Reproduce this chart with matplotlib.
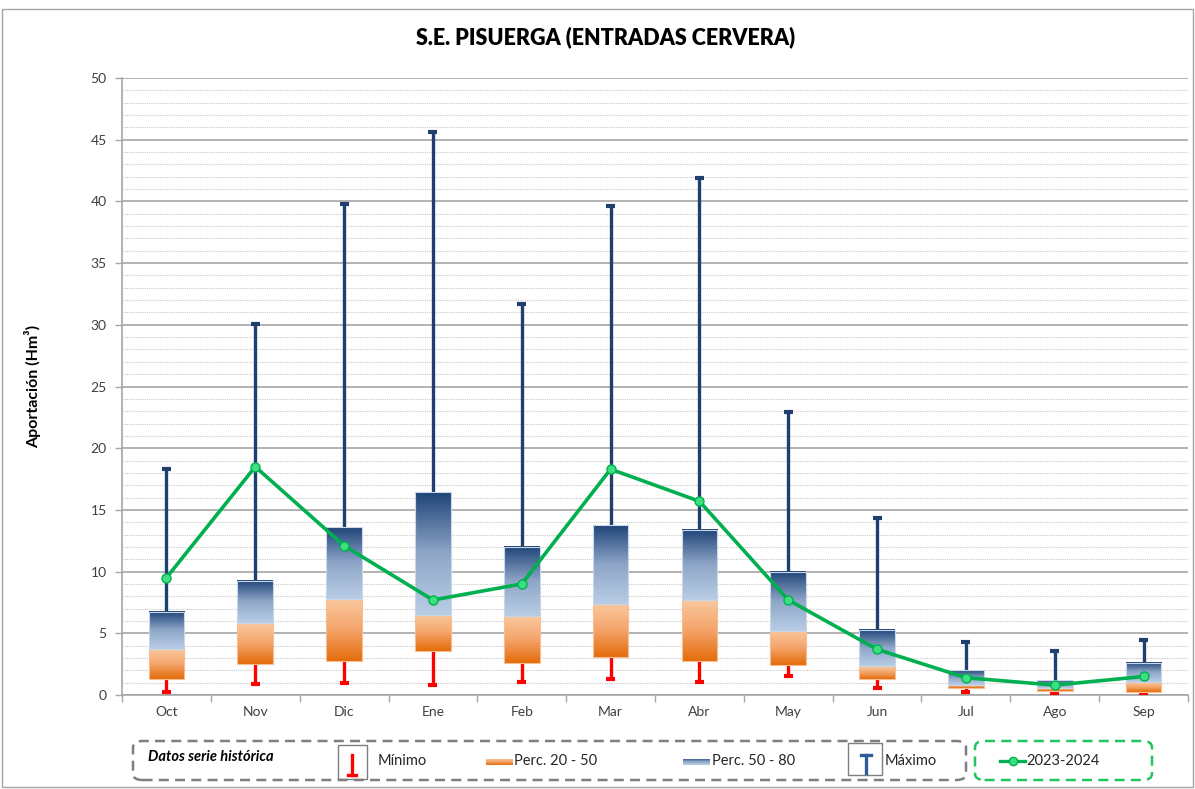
import numpy as np
import matplotlib
matplotlib.use("Agg")
import matplotlib.pyplot as plt
from matplotlib.colors import LinearSegmentedColormap
from matplotlib.patches import Rectangle, FancyBboxPatch
from matplotlib.lines import Line2D

plt.rcParams['font.family'] = ['Lato', 'DejaVu Sans']

# ── data (Hm3) ─────────────────────────────────────────
months = ["Oct", "Nov", "Dic", "Ene", "Feb", "Mar", "Abr", "May", "Jun", "Jul", "Ago", "Sep"]
minimo = [0.25, 0.9, 0.95, 0.8, 1.05, 1.3, 1.05, 1.55, 0.55, 0.25, 0.05, 0.1]
perc20 = [1.3, 2.5, 2.75, 3.55, 2.6, 3.1, 2.75, 2.4, 1.3, 0.55, 0.3, 0.25]
perc50 = [3.7, 5.8, 7.8, 6.5, 6.4, 7.4, 7.7, 5.2, 2.35, 0.8, 0.6, 1.05]
perc80 = [6.7, 9.25, 13.6, 16.45, 12.0, 13.75, 13.4, 10.0, 5.3, 2.0, 1.2, 2.6]
maximo = [18.3, 30.1, 39.8, 45.6, 31.7, 39.6, 41.9, 22.9, 14.35, 4.3, 3.55, 4.45]
y2023_24 = [9.5, 18.5, 12.1, 7.7, 9.0, 18.3, 15.7, 7.7, 3.7, 1.4, 0.8, 1.5]

NAVY = "#1F3F6E"
RED = "#FF0000"
GREEN = "#00B050"

orange_cm = LinearSegmentedColormap.from_list("o", ["#E46C0A", "#F4A46A", "#FAC9A0"])
blue_cm = LinearSegmentedColormap.from_list("b", ["#B9CDE5", "#8EA6C8", "#1F4478"])

W, H = 1195, 789
fig = plt.figure(figsize=(W / 100, H / 100), dpi=100)
ax = fig.add_axes([122 / W, 1 - 695 / H, 1066 / W, 617 / H])

x = np.arange(len(months))
bw = 0.4
cap = 0.05
grad = np.linspace(0, 1, 256).reshape(-1, 1)

for i in x:
    # max whisker
    ax.vlines(i, perc80[i], maximo[i], color=NAVY, lw=2.4, zorder=3)
    ax.hlines(maximo[i], i - cap, i + cap, color=NAVY, lw=3, zorder=3)
    # min whisker
    ax.vlines(i, minimo[i], perc20[i], color=RED, lw=2.4, zorder=3)
    ax.hlines(minimo[i], i - cap, i + cap, color=RED, lw=3, zorder=3)
    # gradient boxes
    ax.imshow(grad, cmap=orange_cm, origin="lower", aspect="auto",
              extent=(i - bw / 2, i + bw / 2, perc20[i], perc50[i]), zorder=4)
    ax.imshow(grad, cmap=blue_cm, origin="lower", aspect="auto",
              extent=(i - bw / 2, i + bw / 2, perc50[i], perc80[i]), zorder=4)
    ax.add_patch(Rectangle((i - bw / 2, perc20[i]), bw, perc50[i] - perc20[i],
                           fill=False, ec="#F7BE92", lw=0.8, zorder=5))
    ax.add_patch(Rectangle((i - bw / 2, perc50[i]), bw, perc80[i] - perc50[i],
                           fill=False, ec="#C9D7EA", lw=0.8, zorder=5))

ax.plot(x, y2023_24, color=GREEN, lw=2.6, marker="o", ms=6.5,
        mfc="#3DE07F", mec=GREEN, mew=1, zorder=6)

ax.set_xlim(-0.5, len(months) - 0.5)
ax.set_ylim(0, 50)
ax.set_yticks(np.arange(0, 51, 5))
ax.set_yticks(np.arange(0, 51, 1), minor=True)
ax.set_xticks(x)
ax.set_xticklabels(months)
ax.set_xticks(np.arange(-0.5, len(months), 1), minor=True)
ax.tick_params(axis="x", which="major", length=0, pad=8, labelsize=10, labelcolor="#404040")
ax.tick_params(axis="x", which="minor", length=5, color="#A6A6A6", width=1)
ax.tick_params(axis="y", which="major", length=5, color="#A6A6A6", width=1,
               labelsize=10, labelcolor="#404040", pad=6)
ax.tick_params(axis="y", which="minor", length=0)

ax.grid(axis="y", which="major", color="#A6A6A6", lw=1.2, zorder=0)
ax.grid(axis="y", which="minor", color="#C8C8C8", lw=0.8, ls=(0, (1, 1)), zorder=0)
ax.set_axisbelow(True)
for s in ["top", "right"]:
    ax.spines[s].set_visible(False)
for s in ["left", "bottom"]:
    ax.spines[s].set_color("#A6A6A6")
    ax.spines[s].set_linewidth(1.2)

ax.set_ylabel("Aportación (Hm³)", fontsize=11.5, fontweight="bold")
ax.yaxis.set_label_coords(-0.076, 0.5)

fig.text(606 / W, 1 - 37 / H, "S.E. PISUERGA (ENTRADAS CERVERA)", ha="center", va="center",
         fontsize=15.5, fontweight="heavy")

# outer frame
fig.add_artist(Rectangle((2 / W, 0.002), 1 - 4 / W, 1 - 9 / H - 0.002, transform=fig.transFigure,
                         fill=False, ec="#A6A6A6", lw=1))


# ── legend drawn by hand in figure pixels ─────────────
def fx(px):
    return px / W


def fy(py):
    return 1 - py / H


def dashed_box(x0, y0, x1, y1, color):
    fig.add_artist(FancyBboxPatch((fx(x0), fy(y1)), fx(x1 - x0), (y1 - y0) / H,
                                  boxstyle="round,pad=0,rounding_size=0.008",
                                  transform=fig.transFigure, fill=False, ec=color,
                                  lw=1.8, ls=(0, (4, 2.5))))


dashed_box(133, 741, 966, 780, "#7F7F7F")
dashed_box(975, 741, 1152, 780, "#22C55E")

fig.text(fx(148), fy(757), "Datos serie histórica", fontsize=10.5, fontweight="bold",
         style="italic", va="center")

# Mínimo icon
fig.add_artist(Rectangle((fx(338), fy(779)), fx(29), 34 / H, transform=fig.transFigure,
                         fill=False, ec="#7F7F7F", lw=1))
fig.add_artist(Line2D([fx(352), fx(352)], [fy(755), fy(775)], transform=fig.transFigure,
                      color=RED, lw=2.4))
fig.add_artist(Line2D([fx(348), fx(356)], [fy(775), fy(775)], transform=fig.transFigure,
                      color=RED, lw=2.4))
fig.text(fx(378), fy(761), "Mínimo", fontsize=10.5, va="center", color="#262626")

# Perc 20-50 swatch
ax_s1 = fig.add_axes([fx(486), fy(765), fx(27), 6 / H])
ax_s1.imshow(grad, cmap=orange_cm, origin="lower", aspect="auto")
ax_s1.axis("off")
fig.text(fx(514), fy(761), "Perc. 20 - 50", fontsize=10.5, va="center", color="#262626")

# Perc 50-80 swatch
ax_s2 = fig.add_axes([fx(683), fy(765), fx(27), 6 / H])
ax_s2.imshow(grad, cmap=blue_cm, origin="lower", aspect="auto")
ax_s2.axis("off")
fig.text(fx(712), fy(761), "Perc. 50 - 80", fontsize=10.5, va="center", color="#262626")

# Máximo icon
fig.add_artist(Rectangle((fx(848), fy(775)), fx(34), 32 / H, transform=fig.transFigure,
                         fill=False, ec="#7F7F7F", lw=1))
fig.add_artist(Line2D([fx(866), fx(866)], [fy(755), fy(773)], transform=fig.transFigure,
                      color="#2E5C99", lw=2.4))
fig.add_artist(Line2D([fx(861), fx(871)], [fy(755), fy(755)], transform=fig.transFigure,
                      color="#2E5C99", lw=2.4))
fig.text(fx(885), fy(761), "Máximo", fontsize=10.5, va="center", color="#262626")

# 2023-2024 line
fig.add_artist(Line2D([fx(1000), fx(1025)], [fy(761), fy(761)], transform=fig.transFigure,
                      color=GREEN, lw=2.4))
fig.add_artist(Line2D([fx(1013)], [fy(761)], transform=fig.transFigure, marker="o", ms=6,
                      mfc="#3DE07F", mec=GREEN, lw=0))
fig.text(fx(1026), fy(761), "2023-2024", fontsize=10.5, va="center", color="#262626")

fig.savefig("out.png", dpi=100)
